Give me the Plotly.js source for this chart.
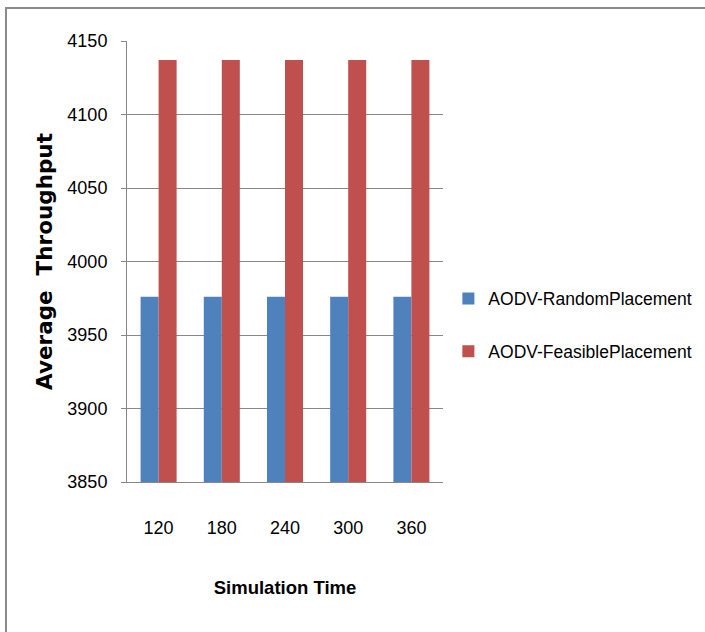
<!DOCTYPE html>
<html>
<head>
<meta charset="utf-8">
<script src="https://cdn.plot.ly/plotly-3.0.1.min.js"></script>
<style>
  html, body { margin: 0; padding: 0; background: #ffffff; }
  #wrap { position: relative; width: 705px; height: 632px; }
  #chart { position: absolute; left: 0; top: 0; width: 705px; height: 632px; }
  #frame { position: absolute; left: 5px; top: 7px; right: 0; bottom: 0;
           border-top: 2px solid #8a8a8a; border-left: 2px solid #8a8a8a; pointer-events: none; }
</style>
</head>
<body>
<div id="wrap">
  <div id="chart"></div>
  <div id="frame"></div>
</div>
<script>
const categories = ["120", "180", "240", "300", "360"];
const randomPlacement = [3976, 3976, 3976, 3976, 3976];
const feasiblePlacement = [4137, 4137, 4137, 4137, 4137];
const seriesNames = ["AODV-RandomPlacement", "AODV-FeasiblePlacement"];
const yTicks = [3850, 3900, 3950, 4000, 4050, 4100, 4150];

const sans = '"Liberation Sans", Arial, sans-serif';

const traces = [
  { type: 'bar', x: categories, y: randomPlacement, name: seriesNames[0],
    legendgroup: 'a', marker: { color: '#4F81BD' } },
  { type: 'bar', x: categories, y: feasiblePlacement, name: seriesNames[1],
    legendgroup: 'b', marker: { color: '#C0504D' } }
];

const layout = {
  width: 705, height: 632,
  margin: { l: 127, r: 262, t: 41, b: 150, pad: 0, autoexpand: false },
  paper_bgcolor: '#ffffff', plot_bgcolor: '#ffffff',
  barmode: 'group', bargap: 0.43, bargroupgap: 0,
  font: { family: sans, size: 18, color: '#000000' },
  xaxis: {
    type: 'category', automargin: false,
    showgrid: false, showline: true, linecolor: '#878787', linewidth: 1,
    ticks: '', ticklabelstandoff: 29,
    tickfont: { family: sans, size: 18, color: '#000' },
    title: { text: '<b>Simulation Time</b>', standoff: 44,
             font: { family: sans, size: 18.5, color: '#000' } }
  },
  yaxis: {
    range: [3850, 4150], tickvals: yTicks, ticktext: yTicks.map(String),
    automargin: false,
    showgrid: true, gridcolor: '#878787', gridwidth: 1,
    showline: true, linecolor: '#878787', linewidth: 1,
    ticks: 'outside', ticklen: 5, tickcolor: '#878787', ticklabelstandoff: 10,
    zeroline: false,
    tickfont: { family: sans, size: 18, color: '#000' },
    title: { text: '<b>Average  Throughput</b>', standoff: 8,
             font: { family: '"DejaVu Sans", Verdana, sans-serif', size: 21.5, color: '#000' } }
  },
  showlegend: true,
  legend: {
    x: 1.017, xanchor: 'left', y: 0.356, yanchor: 'middle',
    traceorder: 'grouped', tracegroupgap: 27,
    font: { family: sans, size: 17.5, color: '#000' },
    bgcolor: 'rgba(0,0,0,0)'
  }
};

Plotly.newPlot('chart', traces, layout, { displayModeBar: false, staticPlot: true });
</script>
</body>
</html>
